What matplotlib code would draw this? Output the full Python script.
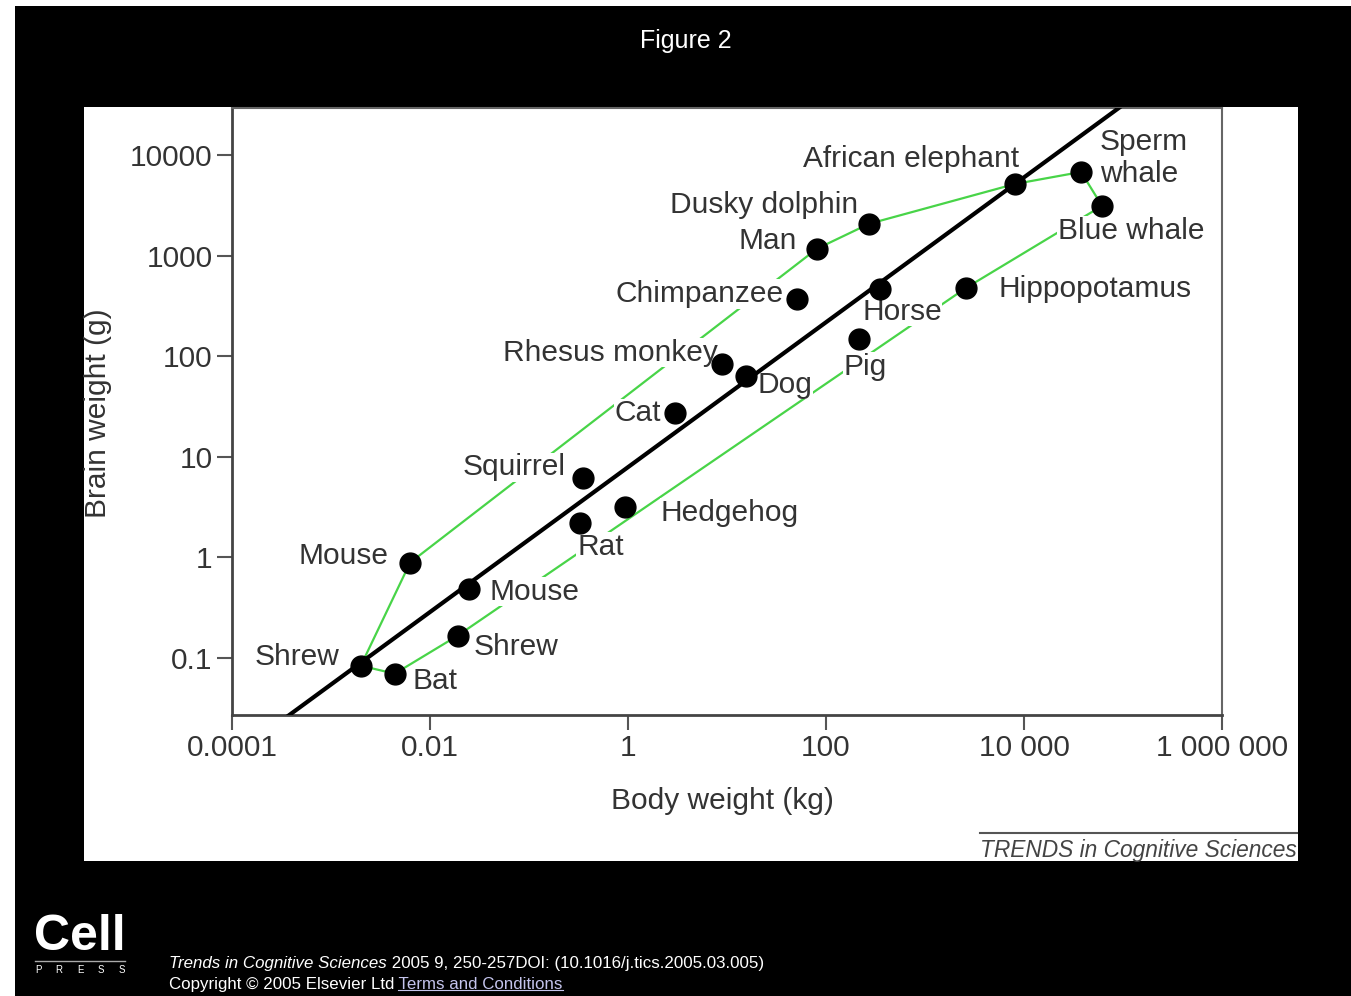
import numpy as np
import matplotlib
matplotlib.use("Agg")
import matplotlib.pyplot as plt
from matplotlib.patches import Rectangle
from matplotlib.lines import Line2D

plt.rcParams['font.family'] = ['Liberation Sans', 'DejaVu Sans']

# species, body weight (kg), brain weight (g)
labels = ["Shrew", "Mouse", "Squirrel", "Cat", "Rhesus monkey", "Dog",
          "Chimpanzee", "Man", "Dusky dolphin", "Horse", "Pig",
          "Hippopotamus", "African elephant", "Sperm\nwhale", "Blue whale",
          "Hedgehog", "Rat", "Mouse", "Shrew", "Bat"]
body_kg = [0.0020, 0.0063, 0.35, 3.0, 8.9, 15.6, 51, 81, 272, 351, 215,
           2600, 8100, 37700, 61400, 0.93, 0.33, 0.025, 0.019, 0.0044]
brain_g = [0.084, 0.89, 6.1, 27, 84, 64, 370, 1170, 2070, 467, 149,
           478, 5150, 6780, 3120, 3.2, 2.2, 0.49, 0.167, 0.070]

# envelope (green) paths, as indices into the lists above
upper_path = [0, 1, 7, 8, 12, 13]
lower_path = [0, 19, 18, 11, 14, 13]

# regression line: brain = coef * body ** exponent
fit_coef = 7.9
fit_exp = 0.72

x_ticks = [1e-4, 1e-2, 1, 1e2, 1e4, 1e6]
x_tick_labels = ["0.0001", "0.01", "1", "100", "10 000", "1 000 000"]
y_ticks = [0.1, 1, 10, 100, 1000, 10000]
y_tick_labels = ["0.1", "1", "10", "100", "1000", "10000"]

# label placement: offset in pixels from the dot, horizontal alignment
label_pos = [(-21, 9, 'right'), (-22, 7, 'right'), (-17, 11, 'right'),
             (-14, 0, 'right'), (-4, 11, 'right'), (11, -9, 'left'),
             (-13, 5, 'right'), (-20, 8, 'right'), (-11, 19, 'right'),
             (22, -23, 'center'), (6, -28, 'center'), (32, -1, 'left'),
             (4, 25, 'right'), (19, 14, 'left'), (29, -25, 'center'),
             (36, -6, 'left'), (20, -24, 'center'), (20, -3, 'left'),
             (16, -11, 'left'), (18, -7, 'left')]

W, H = 1351, 996
fig = plt.figure(figsize=(W / 100, H / 100), dpi=100, facecolor='black')

# white edges of the original slide image and the white figure panel
for rect in [(0, 1 - 6 / H, 1, 6 / H), (0, 0, 15 / W, 1),
             (84 / W, (H - 861) / H, (1298 - 84) / W, (861 - 107) / H)]:
    fig.add_artist(Rectangle(rect[:2], rect[2], rect[3], transform=fig.transFigure,
                             facecolor='white', edgecolor='none', zorder=-5))

ax = fig.add_axes([232 / W, (H - 715) / H, (1222 - 232) / W, (715 - 108) / H])
ax.set_facecolor('none')
ax.set_xscale('log')
ax.set_yscale('log')
ax.set_xlim(1e-4, 1e6)
ax.set_ylim(0.0272, 29300)

body = np.array(body_kg)
brain = np.array(brain_g)

green = '#48d448'
ax.plot(body[upper_path], brain[upper_path], color=green, lw=1.6, zorder=1)
ax.plot(body[lower_path], brain[lower_path], color=green, lw=1.6, zorder=1)

fx = np.logspace(-4, 6, 50)
ax.plot(fx, fit_coef * fx ** fit_exp, color='black', lw=3, zorder=3)

ax.plot(body, brain, 'o', color='black', ms=15, zorder=4, clip_on=False)

for i, name in enumerate(labels):
    dx, dy, ha = label_pos[i]
    ax.annotate(name, (body[i], brain[i]), xytext=(dx, dy),
                textcoords='offset pixels', ha=ha, va='center',
                fontsize=21.5, color='#333333', zorder=2.5,
                bbox=dict(boxstyle='square,pad=0.02', fc='white', ec='none'))

ax.set_xticks(x_ticks)
ax.set_xticklabels(x_tick_labels)
ax.set_yticks(y_ticks)
ax.set_yticklabels(y_tick_labels)
ax.minorticks_off()
ax.tick_params(length=11, width=1.5, color='#555555', labelcolor='#333333',
               labelsize=21.5, pad=3)
for s in ax.spines.values():
    s.set_color('#666666')
    s.set_linewidth(1.5)
ax.spines['left'].set_color('#444444')
ax.spines['bottom'].set_color('#444444')
ax.spines['left'].set_linewidth(2)
ax.spines['bottom'].set_linewidth(2)

ax.set_xlabel("Body weight (kg)", fontsize=21.5, color='#333333')
ax.set_ylabel("Brain weight (g)", fontsize=21.5, color='#333333')
ax.xaxis.set_label_coords(0.495, -0.119)
ax.yaxis.set_label_coords(-0.121, 0.4975)

# journal tag at bottom right of the panel
fig.add_artist(Line2D([980 / W, 1297 / W], [(H - 833) / H] * 2,
                      transform=fig.transFigure, color='#555555', lw=1.5))
fig.text(1297 / W, (H - 850) / H, "TRENDS in Cognitive Sciences", style='italic',
         fontsize=16.4, color='#444444', ha='right', va='center')

fig.text(686 / W, (H - 41) / H, "Figure 2", color='white', fontsize=18,
         ha='center', va='center')

# Cell Press logo
fig.text(80 / W, (H - 937) / H, "Cell", color='white', fontsize=36,
         fontweight='bold', ha='center', va='center')
fig.add_artist(Line2D([35 / W, 125 / W], [(H - 961) / H] * 2,
                      transform=fig.transFigure, color='#aaaaaa', lw=1))
for k, ch in enumerate("PRESS"):
    fig.text((38 + k * 21) / W, (H - 970) / H, ch, color='white', fontsize=7,
             ha='center', va='center')

# footer
fs = 12.2
t1 = fig.text(169 / W, (H - 971) / H, "Trends in Cognitive Sciences", style='italic',
              color='white', fontsize=fs, va='bottom')
ax.annotate(" 2005 9, 250-257DOI: (10.1016/j.tics.2005.03.005)", xy=(1, 0),
            xycoords=t1, va='bottom', ha='left', color='white', fontsize=fs,
            annotation_clip=False)
t3 = fig.text(169 / W, (H - 992) / H, "Copyright \u00a9 2005 Elsevier Ltd",
              color='white', fontsize=fs, va='bottom')
t4 = ax.annotate(" Terms and Conditions", xy=(1, 0), xycoords=t3, va='bottom',
                 ha='left', color='#c4c4ec', fontsize=fs, annotation_clip=False)

fig.canvas.draw()
bb = t4.get_window_extent()
fig.add_artist(Line2D([(bb.x0 + 4) / W, bb.x1 / W], [(bb.y0 + 2) / H] * 2,
                      transform=fig.transFigure, color='#c4c4ec', lw=0.8))

fig.savefig("out.png", dpi=100, facecolor='black')
